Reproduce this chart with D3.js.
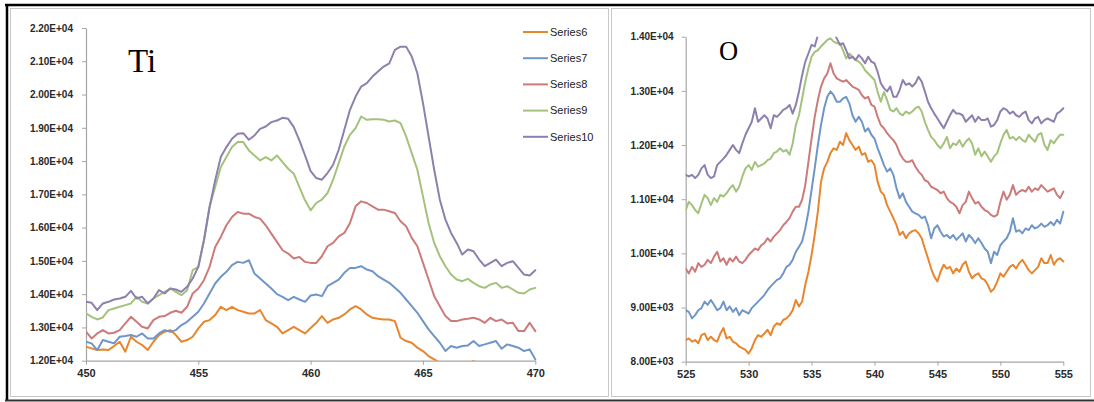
<!DOCTYPE html>
<html><head><meta charset="utf-8">
<script src="https://cdn.jsdelivr.net/npm/d3@7/dist/d3.min.js"></script>
<style>
html,body{margin:0;padding:0;background:#fff;}
svg{display:block;}
</style></head>
<body>
<svg id="chart" width="1094" height="402"></svg>
<script>
// ---------- DATA ----------
const seriesNames = ["Series6","Series7","Series8","Series9","Series10"];
const seriesColors = ["#E8862E","#7096C8","#CC7B7A","#A4C27C","#8E80AE"];

const tiEnergy = [450,450.25,450.5,450.75,451,451.25,451.5,451.75,452,452.25,452.5,452.75,453,453.25,453.5,453.75,454,454.25,454.5,454.75,455,455.25,455.5,455.75,456,456.25,456.5,456.75,457,457.25,457.5,457.75,458,458.25,458.5,458.75,459,459.25,459.5,459.75,460,460.25,460.5,460.75,461,461.25,461.5,461.75,462,462.25,462.5,462.75,463,463.25,463.5,463.75,464,464.25,464.5,464.75,465,465.25,465.5,465.75,466,466.25,466.5,466.75,467,467.25,467.5,467.75,468,468.25,468.5,468.75,469,469.25,469.5,469.75,470];

const tiSeries6 = [12420,12370,12320,12340,12320,12440,12570,12270,12720,12570,12470,12320,12570,12770,12870,12920,12770,12570,12620,12720,12970,13170,13220,13370,13620,13520,13620,13520,13470,13420,13420,13520,13220,13120,13020,12820,12920,13020,12920,12820,12980,13140,13340,13140,13240,13290,13390,13540,13640,13540,13390,13290,13260,13240,13240,13190,12690,12590,12540,12390,12290,12140,12040,11940,11850,11800,11780,11850,11920,11990,11900,11820,11780,11750,11720,11740,11700,11680,11700,11660,11640];
const tiSeries7 = [12570,12520,12320,12620,12570,12520,12720,12740,12770,12720,12820,12670,12670,12820,12920,12870,12920,13070,13170,13320,13470,13720,14020,14320,14520,14670,14870,14970,14940,15020,14620,14470,14320,14170,14000,13920,13820,13920,13840,13770,13960,13990,13940,14240,14340,14440,14640,14790,14790,14840,14740,14690,14540,14440,14340,14190,14040,13840,13640,13440,13190,12940,12740,12540,12290,12440,12390,12440,12460,12590,12440,12490,12540,12590,12360,12490,12440,12390,12290,12340,12040];
const tiSeries8 = [12870,12670,12820,12920,12820,12840,12920,13120,13320,13170,13020,12970,13220,13320,13340,13440,13500,13440,13620,14020,14170,14420,14820,15420,15720,16070,16320,16470,16420,16420,16320,16270,16070,15820,15570,15320,15220,15070,15120,14970,14940,14940,15140,15440,15540,15740,15840,16140,16640,16790,16740,16640,16540,16540,16490,16440,16190,16040,15690,15440,14940,14440,13940,13640,13340,13190,13190,13240,13260,13290,13240,13140,13290,13190,13240,13120,13140,12890,12890,13140,12890];
const tiSeries9 = [13420,13320,13240,13300,13520,13570,13620,13670,13720,13920,13770,13720,13870,13970,14070,14170,14070,13970,14120,14720,14820,15620,16620,17220,17820,18120,18420,18570,18570,18320,18170,18020,18120,18020,18170,17970,17770,17620,17220,16820,16520,16740,16840,17040,17440,17940,18440,18790,18990,19340,19240,19260,19260,19240,19190,19220,19140,18740,18240,17740,16940,16140,15540,15140,14840,14590,14440,14390,14460,14340,14240,14190,14290,14340,14190,14240,14140,14040,14020,14140,14190];
const tiSeries10 = [13770,13740,13520,13720,13770,13840,13870,13920,14100,13870,13920,13720,13870,14120,14020,14170,14140,14070,14220,14470,14820,15620,16620,17420,18120,18420,18670,18820,18840,18640,18770,18970,19040,19170,19220,19300,19270,19020,18620,18170,17700,17490,17440,17640,17890,18340,18940,19540,19940,20240,20340,20540,20690,20840,20940,21340,21440,21440,21140,20640,19740,18740,17740,16840,16240,15840,15540,15190,15340,15290,15040,14840,14940,15040,14840,14940,14990,14790,14590,14560,14720];

const oEnergy = [525,525.25,525.5,525.75,526,526.25,526.5,526.75,527,527.25,527.5,527.75,528,528.25,528.5,528.75,529,529.25,529.5,529.75,530,530.25,530.5,530.75,531,531.25,531.5,531.75,532,532.25,532.5,532.75,533,533.25,533.5,533.75,534,534.25,534.5,534.75,535,535.25,535.5,535.75,536,536.25,536.5,536.75,537,537.25,537.5,537.75,538,538.25,538.5,538.75,539,539.25,539.5,539.75,540,540.25,540.5,540.75,541,541.25,541.5,541.75,542,542.25,542.5,542.75,543,543.25,543.5,543.75,544,544.25,544.5,544.75,545,545.25,545.5,545.75,546,546.25,546.5,546.75,547,547.25,547.5,547.75,548,548.25,548.5,548.75,549,549.25,549.5,549.75,550,550.25,550.5,550.75,551,551.25,551.5,551.75,552,552.25,552.5,552.75,553,553.25,553.5,553.75,554,554.25,554.5,554.75,555];

const oSeries6 = [8400,8430,8370,8400,8340,8490,8520,8400,8460,8400,8370,8520,8620,8430,8460,8370,8340,8280,8250,8220,8150,8250,8400,8490,8460,8520,8590,8490,8650,8710,8680,8770,8800,8860,8950,9140,9020,9110,9420,9660,9970,10340,10770,11320,11570,11690,11850,11940,11910,12060,12000,12220,12090,12000,11910,11970,11820,11850,11690,11720,11630,11320,11140,11080,10890,10770,10650,10520,10340,10400,10280,10370,10410,10430,10370,10280,10090,9910,9720,9570,9480,9660,9790,9720,9750,9630,9720,9660,9790,9850,9660,9540,9600,9630,9540,9510,9420,9290,9350,9480,9630,9570,9660,9750,9790,9720,9820,9880,9790,9690,9630,9690,9750,9910,9820,9820,9970,9790,9880,9910,9850];
const oSeries7 = [8950,8920,8800,8860,8950,8990,9110,9050,9140,9050,8950,8990,9110,8950,9020,8920,8990,8860,8950,8920,8890,8990,9050,9110,9170,9230,9320,9390,9450,9510,9540,9630,9750,9790,9880,10030,10120,10220,10460,10770,11170,11570,12000,12370,12680,12890,12990,12920,12800,12800,12860,12890,12770,12550,12430,12520,12430,12250,12310,12190,12120,11940,11790,11630,11510,11570,11450,11200,11020,11110,10950,10860,10770,10740,10710,10650,10680,10520,10280,10460,10520,10400,10310,10340,10280,10340,10250,10310,10370,10220,10340,10280,10190,10280,10190,10090,10030,9820,10030,9970,10150,10220,10280,10400,10650,10400,10430,10370,10460,10430,10520,10460,10490,10550,10490,10520,10580,10520,10620,10550,10770];
const oSeries8 = [9720,9630,9750,9660,9820,9750,9790,9880,9820,9940,10030,9850,9910,9790,9910,9850,9940,9850,9820,9880,9970,10030,10090,10060,10150,10190,10280,10220,10310,10370,10430,10520,10580,10650,10770,10860,10860,10990,11260,11690,12120,12520,12830,13080,13230,13320,13510,13320,13230,13200,13170,13200,13140,13080,13050,13020,12920,12860,12890,12740,12710,12520,12370,12310,12220,12150,12090,12000,11850,11750,11690,11690,11720,11600,11510,11450,11350,11320,11230,11200,11170,11110,11140,11020,10950,10920,10860,10740,10890,10950,11140,11020,10920,10950,10860,10800,10770,10710,10680,10710,10950,11140,10990,11080,11260,11080,11140,11170,11140,11230,11140,11200,11170,11260,11200,11140,11170,11200,11080,11020,11140];
const oSeries9 = [10800,10950,10890,10800,10740,10920,11080,11020,10890,11020,10950,11080,11050,11110,11200,11260,11140,11230,11420,11570,11630,11540,11690,11600,11630,11660,11720,11750,11850,11880,11940,11880,11910,11820,12030,12370,12550,12860,13170,13420,13630,13720,13750,13820,13880,13940,13970,13910,13880,13880,13750,13600,13690,13630,13570,13540,13480,13380,13320,13260,13200,12980,12800,12980,12830,12650,12620,12680,12580,12550,12620,12580,12620,12680,12710,12620,12430,12280,12150,12090,12000,11940,12030,12150,11940,12030,12000,12090,11970,12060,12120,12030,11820,11940,11790,11880,11790,11690,11790,11850,12030,12190,12280,12120,12150,12090,12150,12090,12060,12190,12120,12060,12190,12220,12000,11910,12090,12030,12120,12190,12190];
const oSeries10 = [11450,11420,11450,11390,11450,11570,11630,11450,11390,11420,11630,11690,11750,11820,11910,12000,11910,11850,12030,12190,12310,12430,12680,12430,12490,12550,12490,12310,12550,12520,12580,12650,12680,12740,12580,12740,12990,13290,13540,13690,13850,13820,14030,14080,14120,14150,14180,14080,13970,13850,13880,13750,13600,13630,13570,13660,13600,13510,13630,13540,13510,13350,13140,13050,12990,13080,12890,12890,13020,13200,13110,13140,13080,13140,13260,13170,12990,12800,12680,12580,12490,12400,12310,12430,12550,12650,12580,12580,12550,12430,12490,12550,12430,12520,12460,12460,12490,12340,12370,12460,12620,12680,12650,12580,12620,12550,12520,12580,12620,12460,12400,12490,12520,12400,12460,12490,12460,12430,12580,12620,12680];

const tiYTicks = [12000,13000,14000,15000,16000,17000,18000,19000,20000,21000,22000];
const tiXTicks = [450,455,460,465,470];
const oYTicks = [8000,9000,10000,11000,12000,13000,14000];
const oXTicks = [525,530,535,540,545,550,555];

const tiData = [tiSeries6, tiSeries7, tiSeries8, tiSeries9, tiSeries10];
const oData  = [oSeries6, oSeries7, oSeries8, oSeries9, oSeries10];

// ---------- DRAW ----------
function sci(v){
  const parts = v.toExponential(2).toUpperCase().split("E");
  const n = +parts[1];
  return parts[0] + "E" + (n < 0 ? "-" : "+") + String(Math.abs(n)).padStart(2,"0");
}

const svg = d3.select("#chart");

// outer frames
svg.append("rect").attr("x",10.5).attr("y",8.5).attr("width",598).attr("height",388)
  .attr("fill","none").attr("stroke","#c8c8c8").attr("stroke-width",1);
svg.append("rect").attr("x",611.5).attr("y",8.5).attr("width",479).attr("height",388)
  .attr("fill","none").attr("stroke","#c8c8c8").attr("stroke-width",1);
svg.append("line").attr("x1",5).attr("x2",1094).attr("y1",5).attr("y2",5).attr("stroke","#000").attr("stroke-width",2.5);
svg.append("line").attr("x1",7).attr("x2",7).attr("y1",4).attr("y2",401).attr("stroke","#000").attr("stroke-width",2.5);
svg.append("line").attr("x1",5).attr("x2",1094).attr("y1",400.5).attr("y2",400.5).attr("stroke","#333").attr("stroke-width",2);

function panel(cfg){
  const x = d3.scaleLinear().domain(cfg.xDomain).range(cfg.xRange);
  const y = d3.scaleLinear().domain(cfg.yDomain).range(cfg.yRange);
  const g = svg.append("g");
  const clipId = cfg.id + "-clip";
  svg.append("defs").append("clipPath").attr("id", clipId).append("rect")
    .attr("x", cfg.xRange[0]).attr("y", cfg.yRange[1])
    .attr("width", cfg.xRange[1]-cfg.xRange[0]+2).attr("height", cfg.yRange[0]-cfg.yRange[1]);

  // axes
  const yAxis = g.append("g").attr("transform", `translate(${cfg.xRange[0]},0)`)
    .call(d3.axisLeft(y).tickValues(cfg.yTicks).tickFormat(sci).tickSizeInner(4).tickSizeOuter(0).tickPadding(cfg.yPad));
  const xAxis = g.append("g").attr("transform", `translate(0,${cfg.yRange[0]})`)
    .call(d3.axisBottom(x).tickValues(cfg.xTicks).tickFormat(d3.format("d")).tickSizeInner(4).tickSizeOuter(0).tickPadding(5));
  [yAxis, xAxis].forEach(a => {
    a.select(".domain").attr("stroke","#a6a6a6").attr("stroke-width",1.2);
    a.selectAll(".tick line").attr("stroke","#a6a6a6").attr("stroke-width",1);
  });
  yAxis.selectAll("text").attr("font-family","'Liberation Sans', Arial, sans-serif")
    .attr("font-size",10).attr("font-weight","bold").attr("fill","#2a2a2a");
  xAxis.selectAll("text").attr("font-family","'Liberation Sans', Arial, sans-serif")
    .attr("font-size",11).attr("font-weight","bold").attr("fill","#2a2a2a");

  // lines
  const line = d3.line().x((d,i) => x(cfg.energy[i])).y(d => y(d));
  const lg = g.append("g").attr("clip-path", `url(#${clipId})`);
  cfg.data.forEach((s, k) => {
    lg.append("path").datum(s).attr("d", line)
      .attr("fill","none").attr("stroke", seriesColors[k]).attr("stroke-width",2)
      .attr("stroke-linejoin","round").attr("stroke-linecap","round");
  });

  // element label
  g.append("text").attr("x", cfg.label.x).attr("y", cfg.label.y)
    .attr("font-family","'Liberation Serif','Times New Roman',serif")
    .attr("font-size", cfg.label.size).attr("fill","#000").text(cfg.label.text);
  return {x, y, g};
}

const ti = panel({
  id:"ti", energy: tiEnergy, data: tiData,
  xDomain:[450,470], xRange:[86,535.3],
  yDomain:[12000,22000], yRange:[360.7,28],
  xTicks: tiXTicks, yTicks: tiYTicks, yPad: 9,
  label:{text:"Ti", x:128, y:72, size:33}
});
panel({
  id:"o", energy: oEnergy, data: oData,
  xDomain:[525,555], xRange:[685.7,1063.3],
  yDomain:[8000,14000], yRange:[361.7,36.7],
  xTicks: oXTicks, yTicks: oYTicks, yPad: 8,
  label:{text:"O", x:719, y:59.5, size:26.5}
});

// legend
const legend = svg.append("g");
seriesNames.forEach((name, k) => {
  const ly = 32 + k * 26.2;
  legend.append("line").attr("x1",523).attr("x2",548).attr("y1",ly).attr("y2",ly)
    .attr("stroke", seriesColors[k]).attr("stroke-width",2);
  legend.append("text").attr("x",550).attr("y",ly).attr("dy","0.35em")
    .attr("font-family","'Liberation Sans', Arial, sans-serif").attr("font-size",11)
    .attr("fill","#222").text(name);
});
</script>
</body></html>
